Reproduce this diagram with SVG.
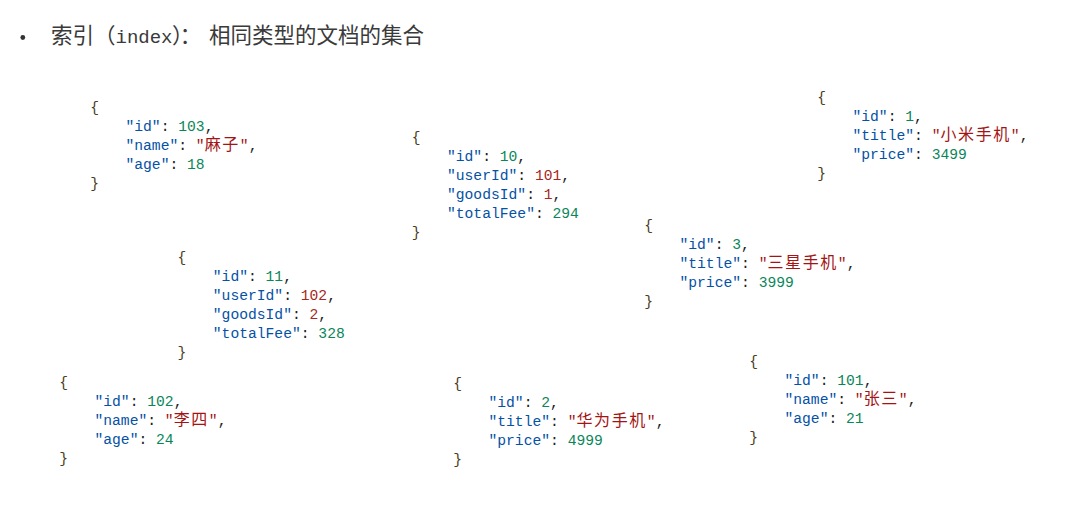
<svg xmlns="http://www.w3.org/2000/svg" width="1078" height="517" viewBox="0 0 1078 517">
<style>
.title{font-family:"Noto Sans CJK SC",sans-serif;font-size:21.5px;fill:#3a3a3a}
.tl{font-family:"Liberation Mono",monospace;font-size:19px}
.m{font-family:"Liberation Mono","Noto Sans CJK SC",monospace;font-size:14.67px;fill:#222}
.b{fill:#4a3c22}
.k{fill:#0451a5}
.n{fill:#098658}
.r{fill:#a8261b}
.s{fill:#a31515}
.c{font-family:"Noto Sans CJK SC",sans-serif;font-size:16px;letter-spacing:1.6px}
</style>
<rect width="1078" height="517" fill="#fff"/>
<g id="title">
<circle cx="22.8" cy="37.5" r="2.4" fill="#333"/>
<text class="title" y="42.5"><tspan x="51">索引（</tspan><tspan class="tl" x="115.5">index</tspan><tspan x="172" letter-spacing="-3">）：</tspan><tspan x="209">相同类型的文档的集合</tspan></text>
</g>
<g id="connectors"/>
<g id="doc-user-103" transform="translate(90.3,111.5)">
<text class="m" x="0" y="0"><tspan class="b">{</tspan></text>
<text class="m" x="35.2" y="19"><tspan class="k">"id"</tspan>: <tspan class="n">103</tspan>,</text>
<text class="m" x="35.2" y="38"><tspan class="k">"name"</tspan>: <tspan class="s">"<tspan class="c">麻子</tspan>"</tspan>,</text>
<text class="m" x="35.2" y="57"><tspan class="k">"age"</tspan>: <tspan class="n">18</tspan></text>
<text class="m" x="0" y="76"><tspan class="b">}</tspan></text>
</g>
<g id="doc-order-10" transform="translate(411.8,141.5)">
<text class="m" x="0" y="0"><tspan class="b">{</tspan></text>
<text class="m" x="35.2" y="19"><tspan class="k">"id"</tspan>: <tspan class="n">10</tspan>,</text>
<text class="m" x="35.2" y="38"><tspan class="k">"userId"</tspan>: <tspan class="r">101</tspan>,</text>
<text class="m" x="35.2" y="57"><tspan class="k">"goodsId"</tspan>: <tspan class="r">1</tspan>,</text>
<text class="m" x="35.2" y="76"><tspan class="k">"totalFee"</tspan>: <tspan class="n">294</tspan></text>
<text class="m" x="0" y="95"><tspan class="b">}</tspan></text>
</g>
<g id="doc-item-1" transform="translate(817.3,102)">
<text class="m" x="0" y="0"><tspan class="b">{</tspan></text>
<text class="m" x="35.2" y="19"><tspan class="k">"id"</tspan>: <tspan class="n">1</tspan>,</text>
<text class="m" x="35.2" y="38"><tspan class="k">"title"</tspan>: <tspan class="s">"<tspan class="c">小米手机</tspan>"</tspan>,</text>
<text class="m" x="35.2" y="57"><tspan class="k">"price"</tspan>: <tspan class="n">3499</tspan></text>
<text class="m" x="0" y="76"><tspan class="b">}</tspan></text>
</g>
<g id="doc-order-11" transform="translate(177.6,262)">
<text class="m" x="0" y="0"><tspan class="b">{</tspan></text>
<text class="m" x="35.2" y="19"><tspan class="k">"id"</tspan>: <tspan class="n">11</tspan>,</text>
<text class="m" x="35.2" y="38"><tspan class="k">"userId"</tspan>: <tspan class="r">102</tspan>,</text>
<text class="m" x="35.2" y="57"><tspan class="k">"goodsId"</tspan>: <tspan class="r">2</tspan>,</text>
<text class="m" x="35.2" y="76"><tspan class="k">"totalFee"</tspan>: <tspan class="n">328</tspan></text>
<text class="m" x="0" y="95"><tspan class="b">}</tspan></text>
</g>
<g id="doc-item-3" transform="translate(644.3,229.5)">
<text class="m" x="0" y="0"><tspan class="b">{</tspan></text>
<text class="m" x="35.2" y="19"><tspan class="k">"id"</tspan>: <tspan class="n">3</tspan>,</text>
<text class="m" x="35.2" y="38"><tspan class="k">"title"</tspan>: <tspan class="s">"<tspan class="c">三星手机</tspan>"</tspan>,</text>
<text class="m" x="35.2" y="57"><tspan class="k">"price"</tspan>: <tspan class="n">3999</tspan></text>
<text class="m" x="0" y="76"><tspan class="b">}</tspan></text>
</g>
<g id="doc-user-102" transform="translate(59.3,387)">
<text class="m" x="0" y="0"><tspan class="b">{</tspan></text>
<text class="m" x="35.2" y="19"><tspan class="k">"id"</tspan>: <tspan class="n">102</tspan>,</text>
<text class="m" x="35.2" y="38"><tspan class="k">"name"</tspan>: <tspan class="s">"<tspan class="c">李四</tspan>"</tspan>,</text>
<text class="m" x="35.2" y="57"><tspan class="k">"age"</tspan>: <tspan class="n">24</tspan></text>
<text class="m" x="0" y="76"><tspan class="b">}</tspan></text>
</g>
<g id="doc-item-2" transform="translate(453.3,388)">
<text class="m" x="0" y="0"><tspan class="b">{</tspan></text>
<text class="m" x="35.2" y="19"><tspan class="k">"id"</tspan>: <tspan class="n">2</tspan>,</text>
<text class="m" x="35.2" y="38"><tspan class="k">"title"</tspan>: <tspan class="s">"<tspan class="c">华为手机</tspan>"</tspan>,</text>
<text class="m" x="35.2" y="57"><tspan class="k">"price"</tspan>: <tspan class="n">4999</tspan></text>
<text class="m" x="0" y="76"><tspan class="b">}</tspan></text>
</g>
<g id="doc-user-101" transform="translate(749.3,365.5)">
<text class="m" x="0" y="0"><tspan class="b">{</tspan></text>
<text class="m" x="35.2" y="19"><tspan class="k">"id"</tspan>: <tspan class="n">101</tspan>,</text>
<text class="m" x="35.2" y="38"><tspan class="k">"name"</tspan>: <tspan class="s">"<tspan class="c">张三</tspan>"</tspan>,</text>
<text class="m" x="35.2" y="57"><tspan class="k">"age"</tspan>: <tspan class="n">21</tspan></text>
<text class="m" x="0" y="76"><tspan class="b">}</tspan></text>
</g>
</svg>
